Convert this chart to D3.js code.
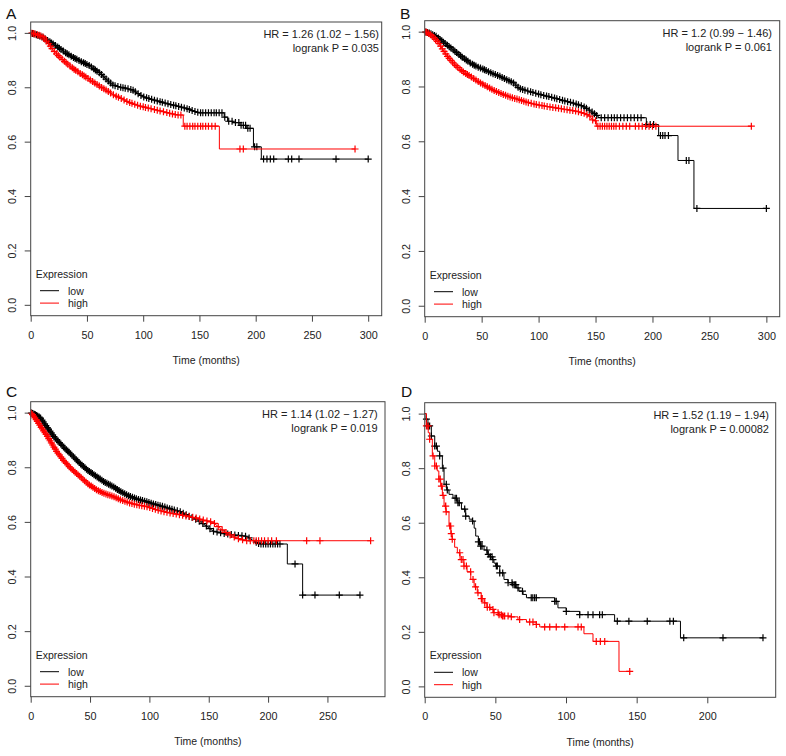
<!DOCTYPE html>
<html><head><meta charset="utf-8">
<script src="https://cdn.jsdelivr.net/npm/d3@7"></script>
<style>body{margin:0;background:#fff}svg{display:block}</style>
</head><body>
<svg id="chart" width="786" height="756"></svg>
<script>
// ---------------- DATA ----------------
const yTicks = [0, 0.2, 0.4, 0.6, 0.8, 1.0];
const xTicksAB = [0, 50, 100, 150, 200, 250, 300];
const xTicksC = [0, 50, 100, 150, 200, 250];
const xTicksD = [0, 50, 100, 150, 200];
const groupLabels = ["low", "high"];
const legendTitle = "Expression";
const xTitle = "Time (months)";
const panelLetters = ["A", "B", "C", "D"];
const hrTexts = ["HR = 1.26 (1.02 \u2212 1.56)", "HR = 1.2 (0.99 \u2212 1.46)", "HR = 1.14 (1.02 \u2212 1.27)", "HR = 1.52 (1.19 \u2212 1.94)"];
const pTexts = ["logrank P = 0.035", "logrank P = 0.061", "logrank P = 0.019", "logrank P = 0.00082"];
// time up to which each curve has many small events (drawn as a smooth descent), per panel [low, high]
const denseUntil = [[150, 130], [153.6, 148], [193, 182], [-1, -1]];

// Panel A
const aLowT = [0, 5, 10, 17, 25, 32, 40, 47, 53, 58, 62, 67, 73, 80, 86, 91, 96, 100, 108, 115, 124, 133, 140, 145, 150, 172, 175, 180, 186, 192, 198, 205];
const aLowS = [1.0, 0.993, 0.985, 0.967, 0.945, 0.924, 0.905, 0.89, 0.878, 0.862, 0.851, 0.83, 0.808, 0.8, 0.795, 0.789, 0.775, 0.765, 0.755, 0.747, 0.737, 0.728, 0.72, 0.712, 0.706, 0.69, 0.675, 0.67, 0.66, 0.649, 0.581, 0.536];
const aLowC = [1.5, 3, 5, 6.5, 8, 10, 11.5, 13, 15, 17, 18.5, 20, 22, 24, 25.5, 27, 29, 31, 32.5, 34, 36, 38, 39.5, 41, 43, 45, 47, 48.5, 50, 52, 54, 56, 57.5, 59, 61, 63, 65, 67, 69, 71, 73, 75, 77.5, 80, 82, 84, 86.5, 89, 91, 93, 95.5, 98, 100.5, 103, 105, 107.5, 110, 112.5, 115, 117, 119.5, 122, 124.5, 127, 129, 131.5, 134, 136.5, 139, 141, 143.5, 146, 148.5, 151, 153, 155.5, 158, 160.5, 163, 165, 167.5, 170, 172.5, 176, 179, 182, 185, 187, 189, 191, 193, 195, 199, 201, 207, 210, 213, 216, 229, 232, 238.5, 271.4, 300];
const aHighT = [0, 5, 11, 16, 20, 26, 32, 38, 44, 50, 56, 62, 68, 74, 80, 86, 92, 97, 104, 112, 118, 124, 130, 135.6, 167.7];
const aHighS = [1.0, 0.995, 0.985, 0.96, 0.936, 0.91, 0.888, 0.868, 0.851, 0.835, 0.818, 0.802, 0.787, 0.771, 0.76, 0.747, 0.738, 0.731, 0.724, 0.716, 0.71, 0.704, 0.698, 0.657, 0.573];
const aHighC = [1, 2.5, 4, 6, 7.5, 9, 11, 12.5, 14, 16, 17.5, 19, 21, 23, 24.5, 26, 28, 30, 31.5, 33, 35, 37, 38.5, 40, 42, 44, 46, 47.5, 49, 51, 53, 55, 57, 59, 61, 63, 65, 67, 69, 71, 73.5, 76, 78, 80.5, 83, 85.5, 88, 90, 92.5, 95, 97.5, 100, 102, 104.5, 107, 110, 112.5, 115, 118, 121, 123.5, 126, 128.5, 131, 133.5, 137, 139, 141.5, 144, 146, 148.5, 151, 153, 155.5, 158, 161, 164, 186, 189, 288.3];

// Panel B
const bLowT = [0, 4, 10, 17, 25, 32, 40, 46, 52, 58, 66, 72, 78, 83, 90, 96, 101, 107, 113, 118, 124, 130, 135, 139, 144, 148, 153.6, 194.6, 205.4, 222.4, 236.4];
const bLowS = [1.0, 0.995, 0.983, 0.96, 0.934, 0.91, 0.886, 0.872, 0.862, 0.85, 0.837, 0.825, 0.813, 0.793, 0.784, 0.777, 0.771, 0.765, 0.759, 0.753, 0.746, 0.74, 0.733, 0.728, 0.715, 0.704, 0.686, 0.661, 0.621, 0.530, 0.355];
const bLowC = [1, 2.5, 4, 5.5, 7, 8.5, 10, 12, 13.5, 15, 16.5, 18, 20, 21.5, 23, 25, 26.5, 28, 30, 31.5, 33, 35, 36.5, 38, 40, 42, 43.5, 45, 47, 49, 51, 52.5, 54, 56, 58, 60, 62, 64, 66, 68, 70, 72, 74, 76, 78, 80, 82, 84, 86, 88, 90.5, 93, 95, 97.5, 100, 102, 104.5, 107, 109, 111.5, 114, 116, 118.5, 121, 123, 125.5, 128, 130.5, 133, 135, 137.5, 140, 142, 144.5, 147, 149, 151, 155, 158, 161, 164, 166.5, 169, 172, 175, 178, 181, 184, 187, 190, 195, 198, 201, 207, 209, 211, 214, 229.7, 232, 239, 300];
const bHighT = [0, 3, 7, 12, 16, 20, 25, 30, 35, 40, 47, 54, 61, 69, 76, 83, 90, 98, 106, 115, 124, 133, 140, 145, 148, 150.7];
const bHighS = [1.0, 0.995, 0.983, 0.96, 0.934, 0.91, 0.886, 0.866, 0.85, 0.837, 0.818, 0.801, 0.785, 0.771, 0.76, 0.752, 0.742, 0.734, 0.728, 0.722, 0.716, 0.71, 0.702, 0.692, 0.675, 0.655];
const bHighC = [1, 2, 3.5, 5, 6.5, 8, 9.5, 11, 12.5, 14, 15.5, 17, 18.5, 20, 21.5, 23, 24.5, 26, 27.5, 29, 31, 32.5, 34, 36, 37.5, 39, 41, 43, 45, 47, 49, 51, 53, 55, 57, 59, 61, 63, 65, 67, 69, 71, 73, 75, 77, 79, 81, 83, 85, 87, 89, 91, 93.5, 96, 98, 100.5, 103, 105, 107.5, 110, 112.5, 115, 117.5, 120, 122.5, 125, 127.5, 130, 132.5, 135, 137.5, 140, 142.5, 145, 147.5, 150, 152, 154, 156, 158, 160, 162, 164, 166, 168, 171, 174, 177, 180, 185, 188, 191, 194, 197, 200, 203, 286.8];

// Panel C
const cLowT = [0, 4, 8, 13.5, 20, 27.5, 35, 41.5, 48, 55.6, 62, 69.6, 76, 83.7, 90, 97.7, 104, 111.7, 118, 125.8, 133, 140, 147, 153.8, 162, 170, 176, 182, 188, 193, 216.2, 229.1];
const cLowS = [1.0, 0.992, 0.982, 0.948, 0.91, 0.875, 0.843, 0.814, 0.789, 0.766, 0.746, 0.729, 0.71, 0.693, 0.683, 0.674, 0.665, 0.656, 0.647, 0.638, 0.622, 0.608, 0.588, 0.566, 0.558, 0.553, 0.55, 0.547, 0.53, 0.519, 0.446, 0.332];
const cLowC = [0.8, 1.8, 3, 4, 5, 6, 7.2, 8.3, 9.5, 10.5, 11.7, 12.8, 14, 15, 16.2, 17.3, 18.5, 19.6, 20.8, 22, 23, 24.2, 25.4, 26.5, 27.7, 28.8, 30, 31.2, 32.3, 33.5, 34.7, 36, 37.2, 38.4, 39.6, 40.8, 42, 43.3, 44.5, 45.7, 47, 48.2, 49.5, 50.8, 52, 53.3, 54.6, 56, 57.3, 58.6, 60, 61.4, 62.8, 64.2, 65.6, 67, 68.4, 70, 71.5, 73, 74.5, 76, 77.6, 79.2, 80.8, 82.5, 84, 85.7, 87.4, 89, 90.8, 92.5, 94.2, 96, 97.8, 99.6, 101.5, 103.4, 105.3, 107.2, 109, 111, 113, 115, 117, 119, 121, 123.5, 126, 128.5, 131, 133.5, 136, 139, 142, 145, 148, 151, 154, 157, 160, 163, 166, 169, 172, 175, 178, 181, 184, 190, 192, 194, 196, 198, 200, 202, 204, 206, 208, 210, 222.7, 229.1, 239.5, 260, 277.4];
const cHighT = [0, 2, 5, 9, 13.5, 18, 22, 27.5, 34, 41.5, 48, 55.6, 62, 69.6, 76, 83.7, 90, 97.7, 104, 111.7, 118, 125.8, 133, 139.8, 146, 153.8, 160, 165, 170, 176, 182];
const cHighS = [1.0, 0.99, 0.972, 0.945, 0.917, 0.885, 0.857, 0.826, 0.795, 0.766, 0.74, 0.717, 0.704, 0.693, 0.68, 0.669, 0.662, 0.656, 0.647, 0.638, 0.632, 0.626, 0.62, 0.614, 0.606, 0.598, 0.575, 0.56, 0.547, 0.537, 0.531];
const cHighC = [0.5, 1.5, 2.5, 3.5, 4.6, 5.6, 6.7, 7.7, 8.8, 9.8, 10.9, 12, 13, 14.1, 15.2, 16.3, 17.4, 18.5, 19.6, 20.7, 21.8, 23, 24.1, 25.3, 26.4, 27.6, 28.8, 30, 31.2, 32.4, 33.6, 34.9, 36.1, 37.4, 38.7, 40, 41.3, 42.6, 44, 45.3, 46.7, 48.1, 49.5, 51, 52.4, 53.9, 55.4, 57, 58.5, 60.1, 61.7, 63.4, 65, 66.7, 68.4, 70.2, 72, 73.8, 75.6, 77.5, 79.4, 81.3, 83.3, 85.3, 87.3, 89.4, 91.5, 93.6, 95.8, 98, 100.3, 102.6, 105, 107.4, 109.8, 112.3, 114.8, 117.4, 120, 122.6, 125.3, 128, 130.8, 133.6, 136.5, 139.4, 142.4, 145.4, 148.5, 151.6, 154.8, 158, 161.3, 164.6, 168, 171.5, 175, 178.5, 182, 185, 188, 190, 192, 194.5, 197, 200, 203, 207, 232.5, 243.7, 286.4];

// Panel D
const dLowT = [0, 1, 2.3, 4.7, 7.1, 9, 10.6, 12.5, 13.7, 15.5, 17.2, 20, 23.1, 26, 29, 31.5, 33.7, 35, 36.1, 38, 39.6, 42, 44.3, 46, 47.8, 49, 50.2, 53.1, 56.1, 59, 62, 64.8, 66.7, 69.6, 72, 92, 94.3, 100.2, 109.7, 134.4, 181];
const dLowS = [1.0, 0.98, 0.955, 0.918, 0.881, 0.862, 0.845, 0.8, 0.741, 0.72, 0.704, 0.69, 0.673, 0.65, 0.624, 0.613, 0.606, 0.58, 0.551, 0.53, 0.514, 0.5, 0.484, 0.475, 0.465, 0.452, 0.441, 0.416, 0.392, 0.38, 0.373, 0.361, 0.349, 0.337, 0.325, 0.312, 0.288, 0.275, 0.263, 0.239, 0.178];
const dLowC = [1.2, 2.4, 3.5, 4.7, 7.1, 8.3, 10.6, 13, 15.3, 16, 21.5, 22.5, 23.5, 24.5, 28.3, 29, 33.9, 38, 38.8, 39.6, 40.6, 44, 45, 46.5, 47.7, 48.3, 50.7, 51.4, 53.1, 55.2, 59, 61.8, 62.5, 63.7, 64.5, 66, 69.2, 75.4, 76.5, 77.8, 79, 92, 93.1, 100.2, 109.7, 115.6, 119.1, 123.8, 125.7, 136.3, 144.5, 157.5, 173.5, 176, 183.3, 211.1, 239.4];
const dHighT = [0, 1.2, 2.5, 3.5, 5.4, 7.1, 8.9, 10, 11.3, 12.5, 13.7, 15, 17.2, 18.5, 19.5, 21.2, 23.1, 25, 27.8, 30, 32.6, 35, 37.2, 40, 42, 44, 46.7, 49, 52.6, 55, 60.9, 66, 72, 79, 81.4, 112.7, 119.1, 137.5];
const dHighS = [1.0, 0.955, 0.93, 0.906, 0.845, 0.808, 0.79, 0.76, 0.734, 0.7, 0.661, 0.64, 0.588, 0.56, 0.539, 0.51, 0.49, 0.465, 0.441, 0.42, 0.392, 0.365, 0.343, 0.322, 0.306, 0.29, 0.282, 0.27, 0.263, 0.258, 0.255, 0.245, 0.236, 0.227, 0.218, 0.193, 0.165, 0.055];
const dHighC = [1.2, 2.4, 3.5, 5.9, 7.1, 8.3, 10, 11, 11.8, 12.2, 13, 14.7, 14.9, 15.2, 17.7, 18.4, 18.8, 19.5, 24.8, 25.9, 27.1, 27.8, 29.5, 32.5, 34.2, 36, 37.7, 40.1, 40.7, 42.5, 44.3, 46, 48.3, 49, 51.9, 52.6, 54.2, 55, 56.1, 56.6, 59, 61.3, 67.2, 74.3, 76.6, 79, 84.9, 88.5, 93.1, 99.1, 108.5, 110.8, 121.4, 124.3, 127.4, 145.1];

// ---------------- LAYOUT ----------------
const panels = [
  {box: [30.7, 22, 381.7, 315.7], xmax: 312, ticks: xTicksAB, textRight: 379, letterX: 6, letterY: 19.3,
   low: [aLowT, aLowS, aLowC], high: [aHighT, aHighS, aHighC]},
  {box: [424.7, 20.7, 779.7, 316.7], xmax: 311.7, ticks: xTicksAB, textRight: 772, letterX: 400, letterY: 19,
   low: [bLowT, bLowS, bLowC], high: [bHighT, bHighS, bHighC]},
  {box: [30.7, 401.7, 385, 696.7], xmax: 298.5, ticks: xTicksC, textRight: 377.7, letterX: 6, letterY: 397.3,
   low: [cLowT, cLowS, cLowC], high: [cHighT, cHighS, cHighC]},
  {box: [424.7, 402.7, 775.7, 697.3], xmax: 248.4, ticks: xTicksD, textRight: 769, letterX: 401, letterY: 396.7,
   low: [dLowT, dLowS, dLowC], high: [dHighT, dHighS, dHighC]}
];
const FONT = "'Liberation Sans', Arial, Helvetica, sans-serif";
const colors = {low: "#000000", high: "#ff0000"};
const svg = d3.select("#chart");

panels.forEach((p, i) => {
  const [x0, y0, x1, y1] = p.box;
  const x = d3.scaleLinear().domain([0, p.xmax]).range([x0, x1]);
  const y = d3.scaleLinear().domain([-0.04, 1.04]).range([y1, y0]);
  const g = svg.append("g");

  g.append("text").attr("x", p.letterX).attr("y", p.letterY).text(panelLetters[i])
    .style("font-family", FONT).style("font-size", "15.5px").attr("fill", "#111");

  ["low", "high"].forEach((k, ki) => {
    const [T, S, C] = p[k];
    const dense = denseUntil[i][ki];
    const lastT = Math.max(T[T.length - 1], d3.max(C));
    const pts = [];
    T.forEach((t, j) => {
      if (j > 0 && t > dense) pts.push([t, S[j - 1]]);
      pts.push([t, S[j]]);
    });
    pts.push([lastT, S[S.length - 1]]);
    const line = d3.line().x(d => x(d[0])).y(d => y(d[1]));
    g.append("path").attr("d", line(pts)).attr("fill", "none")
      .attr("stroke", colors[k]).attr("stroke-width", 1);
    const sAt = t => {
      const j = Math.max(0, d3.bisectRight(T, t) - 1);
      if (j + 1 < T.length && T[j + 1] <= dense) {
        const f = (t - T[j]) / (T[j + 1] - T[j]);
        return S[j] + f * (S[j + 1] - S[j]);
      }
      return S[j];
    };
    const a = 3.5;
    const marks = C.map(t => {
      const cx = x(t), cy = y(sAt(t));
      return `M${cx - a},${cy}H${cx + a}M${cx},${cy - a}V${cy + a}`;
    }).join("");
    g.append("path").attr("d", marks).attr("fill", "none")
      .attr("stroke", colors[k]).attr("stroke-width", 1.2);
  });

  g.append("rect").attr("x", x0).attr("y", y0).attr("width", x1 - x0).attr("height", y1 - y0)
    .attr("fill", "none").attr("stroke", "#444").attr("stroke-width", 1);

  const xa = g.append("g").attr("transform", `translate(0,${y1})`)
    .call(d3.axisBottom(x).tickValues(p.ticks).tickSize(6).tickSizeOuter(0).tickPadding(9.5));
  xa.select(".domain").remove();
  xa.selectAll("line").attr("stroke", "#444");
  xa.selectAll("text").style("font-family", FONT).style("font-size", "10.8px").attr("fill", "#222");

  const ya = g.append("g").attr("transform", `translate(${x0},0)`)
    .call(d3.axisLeft(y).tickValues(yTicks).tickFormat(d3.format(".1f")).tickSize(6).tickSizeOuter(0));
  ya.select(".domain").remove();
  ya.selectAll("line").attr("stroke", "#444");
  ya.selectAll("text").attr("x", null).attr("dy", null)
    .attr("transform", "translate(-14.7,0) rotate(-90)")
    .attr("text-anchor", "middle")
    .style("font-family", FONT).style("font-size", "10.8px").attr("fill", "#222");

  g.append("text").attr("x", (x0 + x1) / 2).attr("y", y1 + 48.3).attr("text-anchor", "middle")
    .text(xTitle).style("font-family", FONT).style("font-size", "10.5px").attr("fill", "#222");

  g.append("text").attr("x", p.textRight).attr("y", y0 + 16.3).attr("text-anchor", "end")
    .text(hrTexts[i]).style("font-family", FONT).style("font-size", "11px").attr("fill", "#222");
  g.append("text").attr("x", p.textRight).attr("y", y0 + 29.8).attr("text-anchor", "end")
    .text(pTexts[i]).style("font-family", FONT).style("font-size", "11px").attr("fill", "#222");

  g.append("text").attr("x", x0 + 5).attr("y", y1 - 38).text(legendTitle)
    .style("font-family", FONT).style("font-size", "10.5px").attr("fill", "#222");
  groupLabels.forEach((lab, j) => {
    const ly = y1 - 25 + j * 12.4;
    g.append("line").attr("x1", x0 + 9.3).attr("x2", x0 + 28.3).attr("y1", ly).attr("y2", ly)
      .attr("stroke", colors[lab]).attr("stroke-width", 1);
    g.append("text").attr("x", x0 + 37.3).attr("y", ly + 3.8).text(lab)
      .style("font-family", FONT).style("font-size", "10.5px").attr("fill", "#222");
  });
});
</script>
</body></html>
